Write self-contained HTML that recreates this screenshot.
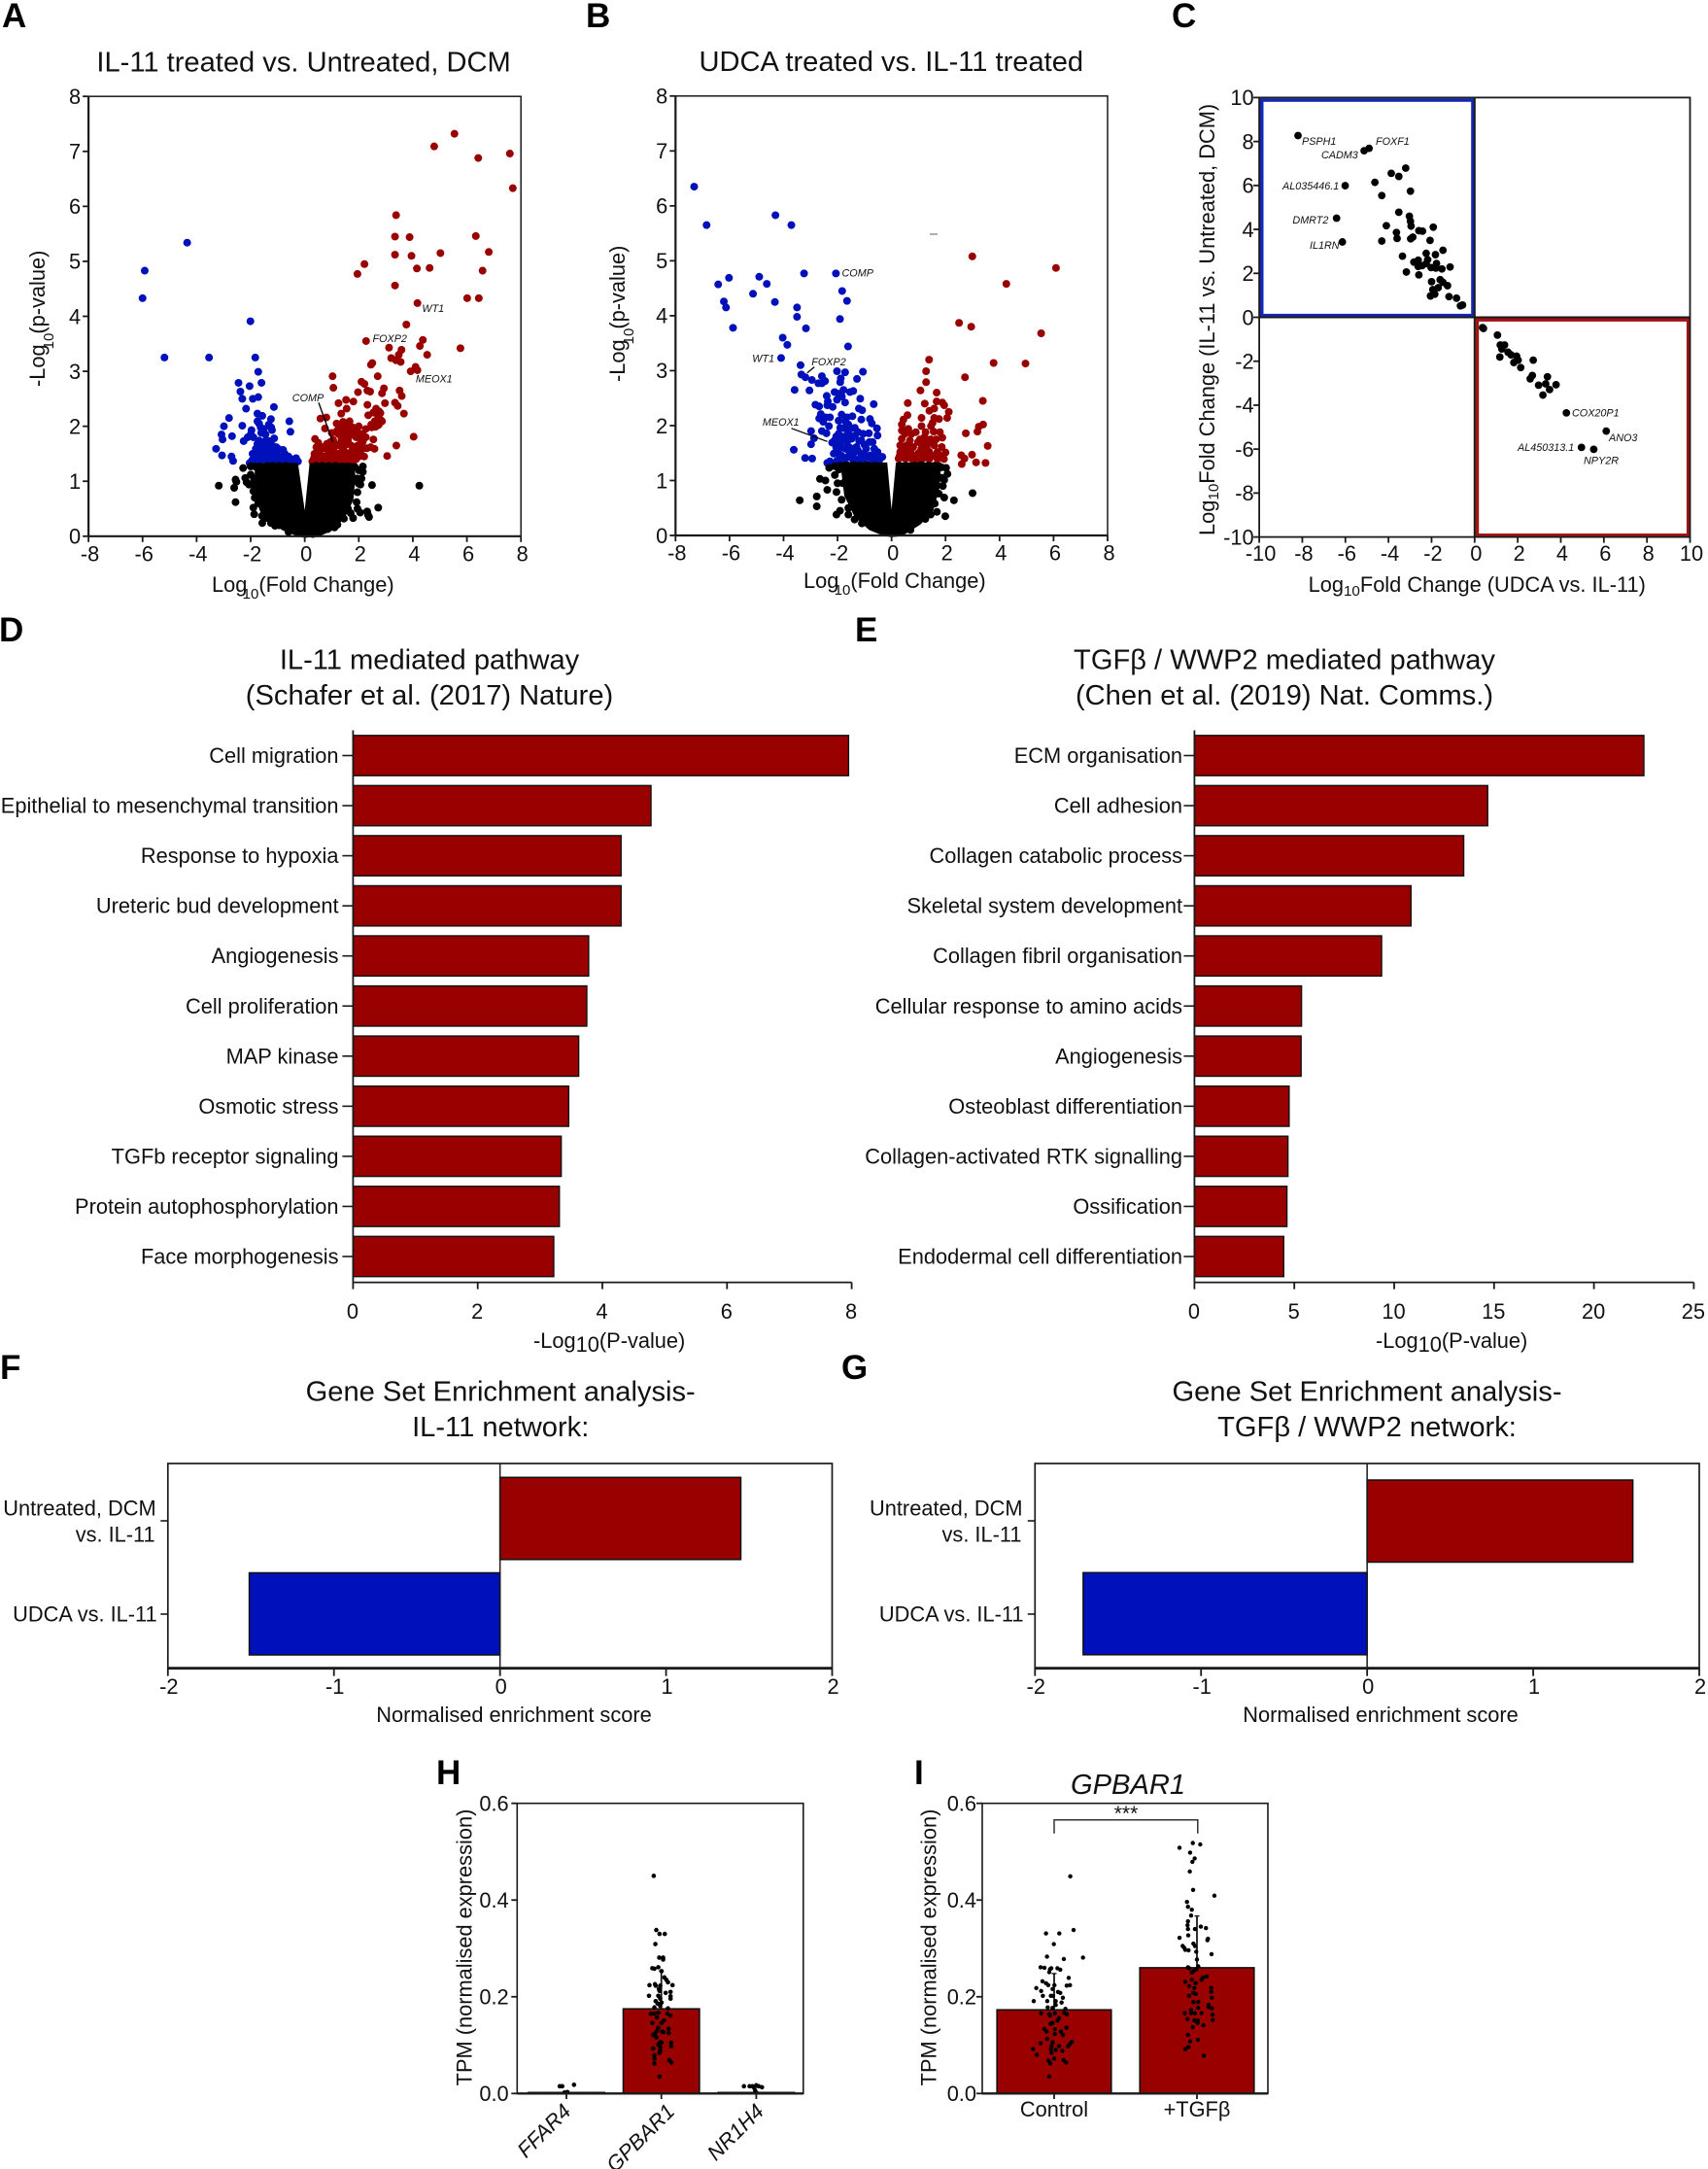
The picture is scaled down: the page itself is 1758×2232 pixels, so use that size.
<!DOCTYPE html>
<html lang="en">
<head>
<meta charset="utf-8">
<title>Multi-panel figure: IL-11, UDCA and TGF-beta transcriptomics</title>
<style>
html,body{margin:0;padding:0;background:#fff;}
svg{display:block;font-family:"Liberation Sans",Arial,sans-serif;}
text{fill:#111;}
.t{font-size:29.1px;text-anchor:middle;}
.l{font-size:21.8px;}
.g{font-size:10.8px;font-style:italic;}
.p{font-size:35px;font-weight:bold;fill:#000;}
</style>
</head>
<body>
<svg id="fig" xmlns="http://www.w3.org/2000/svg" width="1758" height="2232" viewBox="0 0 1758 2232">
<rect width="1758" height="2232" fill="#fff"/>
<g id="marks"></g>

<text class="p" x="2" y="28">A</text>
<text class="p" x="603" y="28">B</text>
<text class="p" x="1206" y="28">C</text>
<text class="p" x="-1" y="660">D</text>
<text class="p" x="880" y="660">E</text>
<text class="p" x="0" y="1419">F</text>
<text class="p" x="866" y="1419">G</text>
<text class="p" x="449" y="1836">H</text>
<text class="p" x="941" y="1836">I</text>

<text class="t" x="312.6" y="73.5">IL-11 treated vs. Untreated, DCM</text>
<text class="t" x="917.3" y="73">UDCA treated vs. IL-11 treated</text>
<text class="t" x="442" y="688.5">IL-11 mediated pathway</text>
<text class="t" x="442" y="724.8">(Schafer et al. (2017) Nature)</text>
<text class="t" x="1322" y="688.5">TGFβ / WWP2 mediated pathway</text>
<text class="t" x="1322" y="724.8">(Chen et al. (2019) Nat. Comms.)</text>
<text class="t" x="515.2" y="1441.7">Gene Set Enrichment analysis-</text>
<text class="t" x="515.2" y="1478">IL-11 network:</text>
<text class="t" x="1407" y="1441.7">Gene Set Enrichment analysis-</text>
<text class="t" x="1407" y="1478">TGFβ / WWP2 network:</text>
<text class="t" x="1161" y="1846" font-style="italic">GPBAR1</text>

<!-- A axis titles -->
<text class="l" x="218" y="609">Log<tspan dx="-4.7" dy="7" font-size="15">10</tspan><tspan dy="-7">(Fold Change)</tspan></text>
<text class="l" transform="translate(46,398) rotate(-90)">-Log<tspan dx="-5" dy="9" font-size="15">10</tspan><tspan dx="-1" dy="-9">(p-value)</tspan></text>
<!-- B axis titles -->
<text class="l" x="827" y="605">Log<tspan dx="-4.7" dy="7" font-size="15">10</tspan><tspan dy="-7">(Fold Change)</tspan></text>
<text class="l" transform="translate(643,393) rotate(-90)">-Log<tspan dx="-5" dy="9" font-size="15">10</tspan><tspan dx="-1" dy="-9">(p-value)</tspan></text>
<!-- C axis titles -->
<text class="l" x="1346.6" y="609">Log<tspan dy="4" font-size="15.2">10</tspan><tspan dy="-4">Fold Change (UDCA vs. IL-11)</tspan></text>
<text class="l" transform="translate(1250,551) rotate(-90)">Log<tspan dy="4" font-size="15.2">10</tspan><tspan dy="-4">Fold Change (IL-11 vs. Untreated, DCM)</tspan></text>
<!-- D/E/F/G axis titles -->
<text class="l" x="549" y="1387">-Log<tspan dy="4">10</tspan><tspan dy="-4">(P-value)</tspan></text>
<text class="l" x="1416" y="1387">-Log<tspan dy="4">10</tspan><tspan dy="-4">(P-value)</tspan></text>
<text class="l" x="529" y="1772" text-anchor="middle">Normalised enrichment score</text>
<text class="l" x="1421" y="1772" text-anchor="middle">Normalised enrichment score</text>
<!-- H/I axis titles -->
<text class="l" text-anchor="middle" transform="translate(485.5,2004) rotate(-90)">TPM (normalised expression)</text>
<text class="l" text-anchor="middle" transform="translate(963.5,2004) rotate(-90)">TPM (normalised expression)</text>

<!-- gene annotations -->
<text class="g" x="434.4" y="321">WT1</text>
<text class="g" x="383.5" y="352">FOXP2</text>
<text class="g" x="427.9" y="393.5">MEOX1</text>
<text class="g" x="300.8" y="413">COMP</text>
<line x1="328" y1="414.3" x2="342.5" y2="455" stroke="#000" stroke-width="1.4"/>
<text class="g" x="866.5" y="284.5">COMP</text>
<text class="g" x="774.3" y="372.6">WT1</text>
<text class="g" x="835.3" y="376">FOXP2</text>
<line x1="838.3" y1="377.6" x2="830.8" y2="383.7" stroke="#000" stroke-width="1.3"/>
<text class="g" x="784.9" y="438">MEOX1</text>
<line x1="814.6" y1="440.8" x2="851.5" y2="454.3" stroke="#000" stroke-width="1.3"/>
<line x1="957" y1="241" x2="965" y2="241" stroke="#999" stroke-width="1.6"/>
<text class="g" x="1340" y="149">PSPH1</text>
<text class="g" x="1416" y="149">FOXF1</text>
<text class="g" x="1360" y="163">CADM3</text>
<text class="g" x="1320" y="195">AL035446.1</text>
<text class="g" x="1330.4" y="230">DMRT2</text>
<text class="g" x="1348" y="256">IL1RN</text>
<text class="g" x="1618" y="428.5">COX20P1</text>
<text class="g" x="1656" y="454">ANO3</text>
<text class="g" x="1562" y="464">AL450313.1</text>
<text class="g" x="1630" y="477.5">NPY2R</text>

<!-- significance bracket -->
<path d="M1085 1886.7V1872.7H1232.8V1886.7" fill="none" stroke="#333" stroke-width="1.5"/>
<text x="1159" y="1873" text-anchor="middle" font-size="21">***</text>
</svg>

<script>
/* ---------- Panel A: volcano, IL-11 treated vs. untreated [log FC, -log p] ---------- */
const volcanoXTicks = [-8,-6,-4,-2,0,2,4,6,8];
const volcanoYTicks = [0,1,2,3,4,5,6,7,8];
const redA = [[5.54,7.32],[4.79,7.09],[7.59,6.96],[6.42,6.88],[7.7,6.33],[3.38,5.84],[3.34,5.45],[3.88,5.44],[6.33,5.46],[3.34,5.12],[3.95,5.1],[5.02,5.15],[6.81,5.17],[2.21,4.95],[1.95,4.77],[4.15,4.87],[4.62,4.88],[6.58,4.83],[3.34,4.56],[6.01,4.33],[6.44,4.33],[4.17,4.24],[3.76,3.85],[2.27,3.55],[4.37,3.57],[4.26,3.46],[3.12,3.43],[3.58,3.39],[3.48,3.3],[4.53,3.3],[5.76,3.42],[3.2,3.24],[3.38,3.2],[3.55,3.17],[2.5,3.15],[2.45,3.12],[4.1,3.08],[4.17,3.02],[3.92,3.0],[1.03,2.91],[2.7,2.91],[1.06,2.7],[2.1,2.81],[2.21,2.77],[2.93,2.69],[2.86,2.6],[3.51,2.65],[3.59,2.55],[1.97,2.62],[2.32,2.65],[2.42,2.63],[1.8,2.45],[1.53,2.48],[1.25,2.42],[1.55,2.32],[2.32,2.39],[3.34,2.43],[3.44,2.37],[2.97,2.42],[3.67,2.23],[1.35,2.23],[2.35,2.2],[2.64,2.32],[2.75,2.27],[2.54,2.25],[0.8,2.16],[0.58,2.14],[2.82,2.11],[2.59,2.09],[2.72,2.02],[2.48,1.98],[0.38,1.77],[0.75,1.96],[1.0,1.88],[2.62,2.24],[2.8,2.24],[2.86,2.09],[2.69,2.12],[2.46,2.03],[2.62,1.99],[2.74,2.03],[2.26,1.95],[2.14,1.86],[2.26,1.8],[2.0,2.0],[1.66,2.09],[1.42,2.08],[1.18,2.05],[1.3,1.98],[1.54,2.0],[1.78,1.98],[1.48,1.89],[1.24,1.86],[1.36,1.77],[1.66,1.83],[1.9,1.8],[2.08,1.74],[1.96,1.65],[2.14,1.59],[2.54,1.76],[2.44,1.62],[2.58,1.59],[3.39,1.65],[3.05,1.46],[4.03,1.81],[1.78,1.86],[1.6,1.74],[1.72,1.65],[1.9,1.56],[1.8,1.45],[1.9,1.4],[1.66,1.5],[1.48,1.65],[1.3,1.68],[1.12,1.68],[0.94,1.71],[0.82,1.68],[0.64,1.62],[0.43,1.62],[0.46,1.53],[0.34,1.42],[0.28,1.36],[0.52,1.39],[0.7,1.45],[0.88,1.53],[1.06,1.56],[1.18,1.47],[1.36,1.53],[1.54,1.42],[1.0,1.42],[1.24,1.37],[0.76,1.36],[1.42,1.34],[1.66,1.36],[0.36,1.5],[0.55,1.52],[0.62,1.4],[0.8,1.45],[0.95,1.38],[1.1,1.45],[1.25,1.5],[1.4,1.45],[1.52,1.52],[1.62,1.42],[1.78,1.38],[0.5,1.7],[0.7,1.6],[0.9,1.62],[1.05,1.75],[1.2,1.65],[1.4,1.62],[1.55,1.72],[1.75,1.55],[1.55,1.85],[1.4,1.95],[1.2,1.92],[1.7,1.95],[1.95,1.9],[2.05,1.55],[2.15,1.72],[2.3,1.6],[0.9,1.5],[1.05,1.34],[0.45,1.36],[0.62,1.34],[0.88,1.34],[1.25,1.34],[1.5,1.34],[1.78,1.34],[2.0,1.45],[2.2,1.45]];
const blueA = [[-6,4.33],[-5.92,4.83],[-4.35,5.34],[-2.01,3.91],[-5.19,3.25],[-3.54,3.25],[-1.83,3.25],[-1.72,2.99],[-2.45,2.79],[-1.6,2.79],[-2.04,2.73],[-2.38,2.63],[-2.31,2.5],[-1.92,2.5],[-1.72,2.53],[-2.17,2.32],[-1.14,2.35],[-1.75,2.23],[-1.57,2.19],[-2.8,2.15],[-2.99,2.0],[-2.31,2.01],[-1.75,2.09],[-1.69,2.05],[-1.25,2.13],[-1.33,2.03],[-1.63,1.98],[-1.51,1.95],[-1.24,1.98],[-1.21,1.93],[-0.57,2.09],[-0.53,1.9],[-1.97,1.93],[-1.99,1.86],[-1.61,1.88],[-3.08,1.85],[-3.04,1.76],[-2.69,1.82],[-2.11,1.8],[-2.26,1.73],[-1.69,1.74],[-1.13,1.78],[-1.33,1.73],[-3.28,1.59],[-3.06,1.47],[-2.71,1.45],[-2.65,1.37],[-2.04,1.33],[-1.57,1.65],[-1.27,1.68],[-1.39,1.62],[-1.81,1.59],[-1.93,1.5],[-1.69,1.53],[-1.45,1.5],[-1.21,1.56],[-0.98,1.59],[-0.8,1.57],[-0.74,1.5],[-0.92,1.45],[-1.16,1.45],[-1.39,1.42],[-1.63,1.39],[-1.87,1.42],[-0.5,1.4],[-0.32,1.42],[-0.38,1.36],[-0.62,1.36],[-0.86,1.37],[-1.1,1.36],[-1.33,1.36],[-1.75,1.45],[-1.55,1.5],[-1.55,1.4],[-1.3,1.5],[-1.25,1.4],[-1.05,1.5],[-1.0,1.38],[-0.75,1.4],[-0.6,1.45],[-1.4,1.58],[-1.2,1.65],[-1.05,1.62],[-1.55,1.58],[-1.75,1.38],[-1.95,1.38],[-0.5,1.36],[-0.25,1.36],[-1.5,1.72],[-1.75,1.68],[-1.9,1.8],[-1.45,1.85]];
const blackA = [[-3.18,0.92],[-2.56,1.03],[-2.53,0.99],[-2.61,0.88],[-2.56,0.62],[-2.2,1.06],[-2.06,0.94],[-1.88,1.05],[-1.9,0.82],[-2.28,1.24],[2.49,0.93],[1.99,0.96],[2.06,0.94],[4.24,0.92],[2.15,1.27],[2.15,1.17],[2.72,0.52],[2.31,0.45],[2.34,0.39],[2.38,0.35],[2.05,0.43],[1.79,0.33],[1.21,0.21],[-1.57,0.24],[-1.9,0.52],[-1.87,0.4],[-1.58,0.37],[-1.1,0.19],[-2.0,1.27],[-1.85,1.27],[-1.65,1.27],[-1.4,1.28],[-1.2,1.28],[-0.95,1.28],[-0.7,1.28],[-0.48,1.27],[0.42,1.28],[0.65,1.28],[0.9,1.28],[1.15,1.28],[1.4,1.27],[1.6,1.27],[1.85,1.26],[2.0,1.2],[-2.0,1.12],[-1.95,0.95],[-1.85,0.7],[-1.72,0.6],[-1.4,0.33],[-0.95,0.2],[1.95,1.05],[1.95,0.8],[1.92,0.62],[1.6,0.5],[1.45,0.32],[0.85,0.13],[-0.6,0.08],[0.3,0.04],[-2.15,0.98],[-1.8,0.85],[2.1,1.05],[1.7,0.42],[1.95,0.5],[-1.25,0.24],[1.1,0.16]];
const envelopeA = [[-1.85,1.33],[-1.85,0.72],[-1.65,0.45],[-1.24,0.26],[-0.83,0.11],[-0.28,0.0],[0,-0.03],[0.55,0.0],[1.1,0.12],[1.51,0.36],[1.8,0.66],[1.88,1.1],[1.8,1.33],[0.18,1.33],[0,0.47],[-0.25,1.33]];

/* ---------- Panel B: volcano, UDCA vs. IL-11 ---------- */
const blueB = [[-7.31,6.35],[-6.85,5.65],[-4.3,5.83],[-3.71,5.65],[-6.42,4.57],[-6.02,4.69],[-4.9,4.71],[-4.62,4.58],[-5.13,4.4],[-3.24,4.77],[-2.06,4.77],[-1.83,4.45],[-1.65,4.27],[-6.21,4.26],[-6.13,4.15],[-4.32,4.25],[-3.5,4.15],[-3.5,3.98],[-5.87,3.78],[-3.17,3.77],[-1.91,3.94],[-4.03,3.6],[-3.86,3.47],[-1.61,3.44],[-4.09,3.23],[-3.37,3.1],[-3.34,2.93],[-3.19,2.88],[-2.95,2.83],[-2.58,2.9],[-2.02,2.99],[-1.72,2.97],[-1.06,2.98],[-1.28,2.85],[-1.88,2.86],[-1.9,2.79],[-2.46,2.81],[-2.58,2.77],[-2.71,2.77],[-3.59,2.65],[-3.04,2.64],[-2.11,2.61],[-1.78,2.65],[-1.54,2.61],[-1.42,2.63],[-1.96,2.58],[-1.84,2.53],[-2.02,2.47],[-1.72,2.42],[-2.4,2.54],[-2.36,2.44],[-2.38,2.37],[-2.82,2.38],[-2.68,2.35],[-2.18,2.34],[-1.16,2.49],[-1.21,2.31],[-1.09,2.28],[-0.66,2.39],[-2.62,2.21],[-2.68,2.13],[-2.44,2.15],[-2.28,2.15],[-2.53,2.07],[-2.32,1.99],[-2.98,1.9],[-2.58,1.9],[-2.41,1.86],[-2.87,1.77],[-2.98,1.66],[-3.62,1.56],[-3.2,1.41],[-2.94,1.4],[-2.28,1.35],[-2.38,1.32],[-2.14,1.49],[-2.2,1.69],[-2.11,1.73],[-1.96,2.09],[-1.72,2.08],[-1.45,2.17],[-1.12,2.11],[-0.8,2.12],[-0.73,2.04],[-0.54,1.95],[-0.84,1.86],[-0.52,1.82],[-1.6,2.02],[-1.36,1.96],[-1.9,1.96],[-1.96,1.85],[-1.6,1.85],[-1.24,1.88],[-1.84,1.73],[-1.48,1.76],[-1.12,1.73],[-0.82,1.7],[-1.72,1.58],[-1.3,1.61],[-0.94,1.58],[-0.64,1.58],[-1.96,1.49],[-1.54,1.46],[-1.12,1.46],[-0.76,1.46],[-0.34,1.43],[-0.52,1.52],[-1.78,1.37],[-1.42,1.37],[-1.06,1.36],[-0.7,1.36],[-2.02,1.36],[-1.6,1.55],[-1.96,1.64],[-1.85,1.6],[-1.75,1.8],[-1.65,1.7],[-1.55,1.6],[-1.4,1.5],[-1.25,1.55],[-1.0,1.5],[-0.85,1.42],[-0.6,1.4],[-0.45,1.38],[-1.65,1.42],[-1.85,1.45],[-1.3,1.38],[-1.2,1.72],[-1.35,1.82],[-1.5,1.95],[-1.75,1.95],[-1.05,1.85],[-1.0,1.65],[-0.7,1.7],[-1.65,2.15],[-1.85,2.2],[-2.05,1.8],[-2.05,1.6]];
const redB = [[2.99,5.08],[6.09,4.87],[4.25,4.58],[2.5,3.87],[2.95,3.8],[5.54,3.68],[1.39,3.2],[1.28,2.99],[1.28,2.79],[1.07,2.64],[1.67,2.6],[0.6,2.41],[1.23,2.4],[1.67,2.44],[1.88,2.42],[1.95,2.37],[1.58,2.31],[1.4,2.27],[2.12,2.25],[2.06,2.14],[1.76,2.12],[1.58,2.14],[1.52,2.05],[1.46,1.99],[1.11,2.14],[1.11,1.99],[0.59,2.19],[0.44,2.11],[0.38,2.02],[0.62,1.94],[0.38,1.91],[0.5,1.85],[0.9,1.88],[0.74,1.85],[1.26,1.88],[1.56,1.89],[1.79,1.88],[1.88,1.78],[1.22,1.79],[0.98,1.7],[1.16,1.67],[0.68,1.73],[0.38,1.76],[0.32,1.64],[0.56,1.64],[0.8,1.61],[1.1,1.58],[1.34,1.67],[1.58,1.64],[1.86,1.61],[2.0,1.51],[1.7,1.52],[1.4,1.52],[1.16,1.49],[0.86,1.46],[0.56,1.52],[0.32,1.52],[0.26,1.4],[0.5,1.4],[0.8,1.37],[1.1,1.37],[1.4,1.39],[1.7,1.39],[1.94,1.39],[2.72,2.88],[3.78,3.14],[4.96,3.13],[3.38,2.45],[3.39,2.02],[3.23,1.98],[3.18,1.89],[2.75,1.86],[3.56,1.63],[2.98,1.47],[2.58,1.46],[2.7,1.4],[2.6,1.3],[3.13,1.33],[3.48,1.32],[0.3,1.45],[0.45,1.5],[0.65,1.42],[0.9,1.38],[1.0,1.5],[1.25,1.42],[1.5,1.45],[1.8,1.45],[0.4,1.62],[0.7,1.55],[1.3,1.6],[1.45,1.75],[1.65,1.75],[0.45,1.9],[1.05,1.75]];
const blackB = [[-3.4,0.64],[-2.77,0.71],[-2.77,0.53],[-2.04,0.38],[-1.91,0.45],[2.31,0.64],[3.0,0.77],[1.99,0.35],[-2.65,1.03],[-2.45,1.0],[-2.38,0.83],[-2.31,1.23],[-2.04,0.79],[2.02,1.23],[2.07,1.12],[1.95,1.01],[1.75,0.76],[1.95,0.69],[1.68,0.43],[-1.37,0.29],[-2.1,1.26],[-1.9,1.27],[-1.65,1.28],[-1.4,1.28],[-1.15,1.27],[-0.9,1.28],[-0.6,1.27],[-0.35,1.26],[0.3,1.27],[0.55,1.27],[0.85,1.27],[1.1,1.28],[1.35,1.27],[1.6,1.27],[1.85,1.24],[-2.1,1.1],[-2.0,0.95],[-1.85,0.65],[-1.6,0.5],[-1.1,0.22],[1.85,1.05],[1.9,0.9],[1.6,0.58],[1.25,0.3],[0.7,0.1],[-1.95,1.2],[-1.8,0.95],[-1.6,0.38],[1.45,0.38]];
const envelopeB = [[-1.9,1.33],[-1.75,0.72],[-1.37,0.34],[-0.83,0.1],[-0.28,-0.01],[0,-0.03],[0.39,-0.01],[1.07,0.2],[1.54,0.45],[1.78,0.87],[1.84,1.33],[0.16,1.33],[0,0.47],[-0.16,1.33]];

/* ---------- Panel C: overlap scatter ---------- */
const overlapTicks = [-10,-8,-6,-4,-2,0,2,4,6,8,10];
const overlapYTicks = [-10,-8,-6,-4,-2,0,2,4,6,8,10];
const overlapUp = [[-8.2,8.27],[-5.13,7.58],[-4.9,7.69],[-6.01,5.99],[-4.63,6.14],[-3.87,6.55],[-3.52,6.41],[-3.2,6.79],[-2.98,5.74],[-4.31,5.54],[-6.41,4.51],[-3.52,4.78],[-3.03,4.6],[-2.98,4.37],[-2.95,4.15],[-4.1,4.17],[-3.63,3.86],[-2.59,3.94],[-2.42,3.92],[-1.92,4.1],[-6.14,3.43],[-4.31,3.47],[-3.6,3.59],[-2.97,3.57],[-2.87,3.65],[-2.07,3.5],[-1.47,3.05],[-3.35,2.78],[-2.25,2.91],[-1.82,2.85],[-2.18,2.62],[-2.82,2.51],[-2.62,2.6],[-2.25,2.44],[-1.77,2.45],[-1.14,2.29],[-3.17,2.06],[-2.62,2.31],[-2.44,2.35],[-2.02,2.26],[-1.8,2.24],[-1.52,2.2],[-2.59,1.93],[-2.0,1.62],[-1.6,1.71],[-1.47,1.59],[-1.26,1.44],[-1.69,1.35],[-1.94,1.26],[-1.85,1.05],[-2.05,0.97],[-1.19,0.94],[-0.84,0.87],[-0.66,0.52],[-0.56,0.56]];
const overlapDown = [[0.37,-0.47],[0.41,-0.51],[1.06,-0.81],[1.19,-1.26],[1.39,-1.26],[1.26,-1.44],[1.55,-1.59],[1.69,-1.71],[1.17,-1.81],[1.95,-1.77],[2.02,-1.95],[1.82,-2.06],[2.72,-1.95],[2.14,-2.29],[2.68,-2.65],[2.58,-2.8],[3.38,-2.71],[2.97,-3.09],[3.3,-3.03],[3.78,-3.07],[3.48,-3.29],[3.17,-3.54],[4.26,-4.35],[6.11,-5.18],[4.96,-5.92],[5.53,-6.01]];

/* ---------- Panels D, E: pathway bars ---------- */
const pathwaysD = ["Cell migration","Epithelial to mesenchymal transition","Response to hypoxia","Ureteric bud development","Angiogenesis","Cell proliferation","MAP kinase","Osmotic stress","TGFb receptor signaling","Protein autophosphorylation","Face morphogenesis"];
const valuesD = [7.95,4.78,4.3,4.3,3.78,3.75,3.62,3.46,3.34,3.31,3.22];
const ticksD = [0,2,4,6,8];
const pathwaysE = ["ECM organisation","Cell adhesion","Collagen catabolic process","Skeletal system development","Collagen fibril organisation","Cellular response to amino acids","Angiogenesis","Osteoblast differentiation","Collagen-activated RTK signalling","Ossification","Endodermal cell differentiation"];
const valuesE = [22.5,14.68,13.48,10.84,9.37,5.36,5.34,4.74,4.68,4.63,4.47];
const ticksE = [0,5,10,15,20,25];

/* ---------- Panels F, G: enrichment ---------- */
const gseaCategories = [["Untreated, DCM","vs. IL-11"],["UDCA vs. IL-11"]];
const gseaF = [1.45,-1.51];
const gseaG = [1.6,-1.71];
const gseaTicks = [-2,-1,0,1,2];

/* ---------- Panels H, I: TPM bars with jittered samples [jitter, TPM] ---------- */
const tpmTicks = ["0.0","0.2","0.4","0.6"];
const genesH = ["FFAR4","GPBAR1","NR1H4"];
const meansH = [0.002,0.175,0.002];
const errorTopH = [0.003,0.253,0.003];
const samplesFFAR4 = [[-0.07,0.015],[-0.044,0.015],[0.08,0.018],[0.01,0.003],[-0.02,0.002]];
const samplesNR1H4 = [[-0.13,0.015],[-0.07,0.015],[-0.04,0.015],[0,0.017],[0.025,0.015],[0.06,0.013],[-0.02,0.011],[-0.01,0.005]];
const samplesGPBAR1 = [[-0.08,0.45],[-0.053,0.338],[-0.019,0.33],[0.036,0.33],[-0.063,0.309],[-0.022,0.281],[0.019,0.281],[0.019,0.277],[-0.095,0.259],[-0.073,0.258],[-0.032,0.261],[0.002,0.253],[0.032,0.24],[0.053,0.235],[0.07,0.23],[-0.125,0.224],[-0.067,0.226],[-0.06,0.223],[0.118,0.224],[-0.012,0.223],[-0.026,0.216],[0.097,0.21],[0.046,0.208],[-0.019,0.212],[-0.032,0.202],[-0.13,0.202],[0.097,0.201],[0.097,0.196],[-0.012,0.196],[-0.06,0.191],[-0.04,0.186],[0.002,0.188],[-0.012,0.181],[-0.073,0.178],[0.07,0.176],[-0.11,0.165],[-0.073,0.165],[-0.032,0.167],[0.063,0.165],[0.097,0.161],[-0.046,0.157],[-0.095,0.146],[0.002,0.146],[0.029,0.151],[0.077,0.134],[-0.032,0.136],[-0.046,0.129],[0.009,0.128],[-0.067,0.124],[-0.087,0.121],[0.077,0.125],[-0.053,0.116],[-0.012,0.106],[-0.032,0.101],[0.002,0.105],[0.104,0.105],[0.104,0.098],[-0.087,0.093],[-0.012,0.096],[-0.012,0.089],[-0.019,0.084],[-0.073,0.079],[-0.073,0.072],[-0.073,0.062],[0.084,0.069],[0.107,0.064],[-0.019,0.035],[0.022,0.127]];
const groupsI = ["Control","+TGFβ"];
const meansI = [0.173,0.26];
const errorTopI = [0.248,0.367];
const samplesControl = [[0.113,0.449],[-0.057,0.331],[0.036,0.331],[0.136,0.338],[-0.002,0.309],[-0.05,0.283],[0.068,0.278],[0.202,0.281],[-0.095,0.261],[-0.068,0.26],[-0.029,0.257],[-0.02,0.259],[0.023,0.259],[0.043,0.256],[-0.034,0.251],[0.102,0.239],[-0.082,0.232],[-0.057,0.228],[-0.041,0.224],[0.002,0.224],[0.088,0.223],[0.111,0.224],[-0.125,0.218],[-0.011,0.216],[-0.091,0.212],[0.027,0.21],[0.043,0.208],[-0.079,0.202],[-0.023,0.202],[-0.007,0.202],[0.061,0.198],[-0.143,0.191],[-0.048,0.191],[0.011,0.191],[0.052,0.188],[0.011,0.183],[-0.045,0.178],[-0.011,0.177],[0.079,0.175],[-0.091,0.166],[-0.034,0.164],[0.005,0.166],[0.07,0.167],[0.088,0.164],[-0.029,0.161],[0.034,0.156],[0.023,0.151],[-0.011,0.146],[-0.025,0.144],[0.086,0.136],[-0.068,0.133],[-0.052,0.128],[0.005,0.133],[0.005,0.123],[0.048,0.128],[0.061,0.121],[-0.048,0.113],[-0.095,0.104],[-0.011,0.106],[0.125,0.107],[0.109,0.102],[0.098,0.098],[-0.018,0.098],[0.034,0.098],[-0.147,0.092],[-0.023,0.092],[0.011,0.09],[0.057,0.088],[-0.018,0.084],[-0.122,0.08],[0,0.072],[-0.039,0.068],[0.066,0.069],[-0.027,0.062],[0.084,0.064],[-0.034,0.035]];
const samplesTGFb = [[-0.029,0.518],[0.023,0.515],[-0.122,0.508],[-0.048,0.498],[-0.016,0.486],[-0.032,0.479],[-0.05,0.459],[-0.027,0.421],[0.122,0.409],[-0.07,0.396],[-0.063,0.386],[-0.036,0.38],[-0.041,0.368],[-0.063,0.356],[-0.066,0.348],[0.027,0.345],[-0.063,0.34],[0.063,0.342],[-0.014,0.34],[-0.061,0.327],[-0.122,0.322],[0.077,0.32],[0.073,0.317],[-0.025,0.31],[-0.014,0.305],[-0.1,0.305],[-0.088,0.301],[-0.082,0.297],[-0.059,0.296],[-0.005,0.293],[0.102,0.288],[0,0.277],[-0.063,0.261],[-0.054,0.259],[0.009,0.263],[-0.005,0.257],[-0.025,0.253],[-0.036,0.25],[0.068,0.242],[0.043,0.24],[0.032,0.235],[-0.036,0.235],[-0.082,0.231],[-0.009,0.228],[-0.054,0.222],[0.1,0.218],[-0.018,0.218],[0.1,0.21],[-0.025,0.208],[-0.009,0.206],[-0.054,0.202],[0.104,0.198],[-0.025,0.189],[0.009,0.189],[0.082,0.183],[0.009,0.177],[-0.041,0.173],[0.082,0.179],[0.104,0.176],[-0.086,0.166],[-0.014,0.166],[-0.041,0.166],[0.032,0.166],[0.109,0.163],[-0.066,0.154],[0.111,0.152],[-0.018,0.151],[0.005,0.151],[0.005,0.146],[0.045,0.141],[-0.029,0.137],[-0.063,0.121],[0.007,0.111],[-0.048,0.108],[-0.059,0.096],[-0.082,0.092],[0.048,0.078]];

const NS = 'http://www.w3.org/2000/svg';
const marks = document.getElementById('marks');
const RED = '#990000', BLUE = '#0010bb', BLACK = '#000', AXIS = '#1a1a1a';

function scale(d0, d1, r0, r1) { return v => r0 + (v - d0) * (r1 - r0) / (d1 - d0); }

function mk(tag, parent, attrs) {
  const e = document.createElementNS(NS, tag);
  for (const k in attrs) e.setAttribute(k, attrs[k]);
  parent.appendChild(e);
  return e;
}
function group(name) {
  const g = mk('g', marks, {});
  
  
  return g;
}
function line(g, x1, y1, x2, y2, w, name) {
  const l = mk('line', g, {x1, y1, x2, y2, stroke: AXIS, 'stroke-width': w});
  
  
  return l;
}
function label(g, x, y, str, anchor, name) {
  const t = mk('text', g, {x, y, 'text-anchor': anchor, 'font-size': 21.8});
  t.textContent = str;
  
  
  return t;
}
function dots(g, pts, sx, sy, r, fill, name) {
  pts.forEach(p => {
    const c = mk('circle', g, {cx: sx(p[0]), cy: sy(p[1]), r, fill});
    
    
  });
}
function frame(g, x0, y0, x1, y1, w) {
  const r = mk('rect', g, {x: x0, y: y0, width: x1 - x0, height: y1 - y0, fill: 'none', stroke: AXIS, 'stroke-width': w});
  
  
}
function xAxis(g, ticks, sx, y, len, labelY, dx) {
  ticks.forEach(t => {
    line(g, sx(t), y, sx(t), y + len, 1.8, 'x-axis-tick');
    label(g, sx(t) + dx, labelY, String(t), 'middle', 'x-tick-label');
  });
}
function yAxis(g, ticks, sy, x, len, labelX) {
  ticks.forEach(t => {
    line(g, x, sy(t), x - len, sy(t), 1.8, 'y-axis-tick');
    label(g, labelX, sy(t) + 7.8, String(t), 'end', 'y-tick-label');
  });
}

/* volcano plots */
function volcano(name, box, red, blue, black, envelope) {
  const g = group(name);
  const sx = scale(-8, 8, box.x0, box.x1), sy = scale(0, 8, box.y1, box.y0);
  dots(g, red, sx, sy, 4, RED, 'upregulated-gene-point');
  dots(g, blue, sx, sy, 4, BLUE, 'downregulated-gene-point');
  const poly = mk('polygon', g, {points: envelope.map(p => sx(p[0]) + ',' + sy(p[1])).join(' '), fill: BLACK});
  
  
  dots(g, black, sx, sy, 4, BLACK, 'non-significant-gene-point');
  frame(g, box.x0, box.y0, box.x1, box.y1, 1.5);
  line(g, box.x0, box.y1, box.x1, box.y1, 2.2, 'x-axis-line');
  line(g, box.x0, box.y0, box.x0, box.y1, 2.2, 'y-axis-line');
  xAxis(g, volcanoXTicks, sx, box.y1, 6, box.y1 + 25.5, 1.5);
  yAxis(g, volcanoYTicks, sy, box.x0, 6, box.x0 - 8);
}
volcano('volcano-il11-vs-untreated', {x0: 91.1, x1: 536.2, y0: 99.2, y1: 551.8}, redA, blueA, blackA, envelopeA);
volcano('volcano-udca-vs-il11', {x0: 695.3, x1: 1140, y0: 98.8, y1: 551}, redB, blueB, blackB, envelopeB);

/* overlap scatter */
(function () {
  const g = group('overlap-scatter');
  const sx = scale(-10, 10, 1296.1, 1739.5), sy = scale(-10, 10, 552.6, 100.4);
  const bb = mk('rect', g, {x: sx(-10) + 2.6, y: sy(10) + 2.6, width: sx(0) - sx(-10) - 4.4, height: sy(0) - sy(10) - 4.4, fill: 'none', stroke: '#1228b5', 'stroke-width': 3.6});
  
  
  const rb = mk('rect', g, {x: sx(0) + 2.6, y: sy(0) + 2.6, width: sx(10) - sx(0) - 4.4, height: sy(-10) - sy(0) - 4.4, fill: 'none', stroke: '#a01414', 'stroke-width': 3.6});
  
  
  frame(g, sx(-10), sy(10), sx(10), sy(-10), 1.8);
  line(g, sx(0), sy(10), sx(0), sy(-10), 2, 'x-zero-line');
  line(g, sx(-10), sy(0), sx(10), sy(0), 2, 'y-zero-line');
  dots(g, overlapUp, sx, sy, 3.9, BLACK, 'overlap-gene-point');
  dots(g, overlapDown, sx, sy, 3.9, BLACK, 'overlap-gene-point');
  xAxis(g, overlapTicks, sx, sy(-10), 6, 577, 1.5);
  yAxis(g, overlapYTicks, sy, sx(-10), 6, 1290.6);
})();

/* pathway bars */
function pathwayBars(name, cats, vals, ticks, x0, x1, maxV, labelEnd, tickLen) {
  const g = group(name);
  const sx = scale(0, maxV, x0, x1);
  const sy = i => 777.5 + i * 51.55;
  cats.forEach((c, i) => {
    const b = mk('rect', g, {x: sx(0), y: sy(i) - 20.7, width: sx(vals[i]) - sx(0), height: 41.4, fill: RED, stroke: '#111', 'stroke-width': 1.4});
    
    
    line(g, x0, sy(i), x0 - tickLen, sy(i), 1.6, 'y-axis-tick');
    label(g, labelEnd, sy(i) + 7.5, c, 'end', 'pathway-label');
  });
  line(g, x0, 751.5, x0, 1319.6, 1.8, 'y-axis-line');
  line(g, x0, 1319.6, x1, 1319.6, 1.8, 'x-axis-line');
  xAxis(g, ticks, sx, 1319.6, 7, 1357, -0.5);
}
pathwayBars('pathway-bars-il11', pathwaysD, valuesD, ticksD, 363.4, 876.6, 8, 348.5, 11);
pathwayBars('pathway-bars-tgfb', pathwaysE, valuesE, ticksE, 1229.4, 1743.4, 25, 1217, 11);

/* enrichment bars */
function gsea(name, vals, x0, x1, labelEnd, barY) {
  const g = group(name);
  const sx = scale(-2, 2, x0, x1);
  const y0 = 1506, y1 = 1716.7;
  const rowY = [1565, 1661];
  vals.forEach((v, i) => {
    const b = mk('rect', g, {x: Math.min(sx(0), sx(v)), y: barY[i], width: Math.abs(sx(v) - sx(0)), height: 84.5, fill: v > 0 ? RED : BLUE, stroke: '#111', 'stroke-width': 1.5});
    
    
    line(g, x0, rowY[i], x0 - 7.5, rowY[i], 1.6, 'y-axis-tick');
  });
  frame(g, x0, y0, x1, y1, 1.7);
  line(g, x0, y1, x1, y1, 2.8, 'x-axis-line');
  line(g, sx(0), y0, sx(0), y1, 1.5, 'zero-line');
  label(g, labelEnd, 1559.5, gseaCategories[0][0], 'end', 'enrichment-category-label');
  label(g, labelEnd - 1, 1586.5, gseaCategories[0][1], 'end', 'enrichment-category-label');
  label(g, labelEnd + 1, 1668.5, gseaCategories[1][0], 'end', 'enrichment-category-label');
  xAxis(g, gseaTicks, sx, y1, 8, 1743, 1);
}
gsea('enrichment-il11-network', gseaF, 172.8, 856.5, 160.7, [1520.3, 1618.5]);
gsea('enrichment-tgfb-network', gseaG, 1065.3, 1749, 1052.5, [1523, 1618.3]);

/* TPM bars */
const syTpm = scale(0, 0.6, 2154.3, 1855.7);
function tpmFrame(g, x0, x1, labelX) {
  frame(g, x0, 1855.7, x1, 2154.3, 1.6);
  line(g, x0, 2154.3, x1, 2154.3, 2.4, 'x-axis-line');
  tpmTicks.forEach(t => {
    line(g, x0, syTpm(+t), x0 - 6, syTpm(+t), 1.8, 'y-axis-tick');
    label(g, labelX, syTpm(+t) + 7.8, t, 'end', 'y-tick-label');
  });
}
function tpmBar(g, cx, half, mean, errTop, samples, sxJ, r) {
  const b = mk('rect', g, {x: cx - half, y: syTpm(mean), width: half * 2, height: syTpm(0) - syTpm(mean), fill: RED, stroke: '#111', 'stroke-width': 1.6});
  
  
  line(g, cx, syTpm(mean), cx, syTpm(errTop), 1.8, 'error-bar');
  line(g, cx - 2.5, syTpm(errTop), cx + 2.5, syTpm(errTop), 1.4, 'error-bar-cap');
  line(g, cx, 2154.3, cx, 2160, 1.8, 'x-axis-tick');
  dots(g, samples, j => cx + j * sxJ, syTpm, r, BLACK, 'sample-point');
}
(function () {
  const g = group('tpm-bars-by-receptor');
  const cx = i => 583 + i * 97.7;
  const samples = [samplesFFAR4, samplesGPBAR1, samplesNR1H4];
  genesH.forEach((n, i) => tpmBar(g, cx(i), 39.2, meansH[i], errorTopH[i], samples[i], 97.7, 2.3));
  tpmFrame(g, 532.3, 826.8, 523.7);
  genesH.forEach((n, i) => {
    const px = cx(i) + [6, 15, 9][i];
    const t = mk('text', g, {x: px, y: 2174, 'text-anchor': 'end', 'font-size': 21.8, 'font-style': 'italic', transform: 'rotate(-45 ' + px + ' 2174)'});
    t.textContent = n;
    
    
  });
})();
(function () {
  const g = group('tpm-bars-gpbar1-tgfb');
  const cx = i => 1085 + i * 147;
  const samples = [samplesControl, samplesTGFb];
  groupsI.forEach((n, i) => tpmBar(g, cx(i), 58.8, meansI[i], errorTopI[i], samples[i], 147, 2.2));
  tpmFrame(g, 1011, 1305, 1005);
  groupsI.forEach((n, i) => label(g, cx(i), 2178, n, 'middle', 'group-tick-label'));
})();
</script>
</body>
</html>
